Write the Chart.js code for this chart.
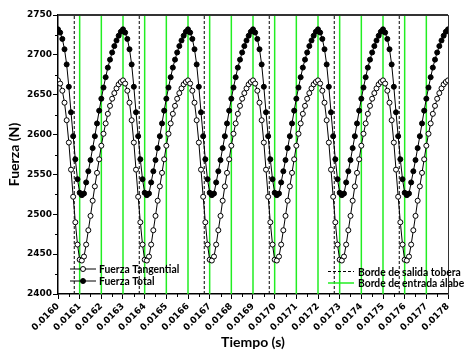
<!DOCTYPE html>
<html>
<head>
<meta charset="utf-8">
<script src="https://cdn.jsdelivr.net/npm/chart.js@4/dist/chart.umd.min.js"></script>
<style>
  html, body { margin: 0; padding: 0; background: #fff; }
</style>
</head>
<body>
<canvas id="forceChart" width="467" height="355"></canvas>
<script>
// sampling grid of the simulation (s)
const tStart = 0.0160;
const tStep = 0.00001;

// Fuerza Tangential (N), one value per sample
const fuerzaTangential = [
  2668, 2664, 2655, 2640, 2618, 2590, 2556, 2522, 2490, 2462, 2443, 2442, 2447, 2462, 2480, 2498, 2517, 2535, 2552, 2569, 2586, 2601, 2614, 2626, 2636, 2645, 2652, 2658, 2663, 2666,
  2668, 2664, 2655, 2640, 2618, 2590, 2556, 2522, 2490, 2462, 2443, 2442, 2447, 2462, 2480, 2498, 2517, 2535, 2552, 2569, 2586, 2601, 2614, 2626, 2636, 2645, 2652, 2658, 2663, 2666,
  2668, 2664, 2655, 2640, 2618, 2590, 2556, 2522, 2490, 2462, 2443, 2442, 2447, 2462, 2480, 2498, 2517, 2535, 2552, 2569, 2586, 2601, 2614, 2626, 2636, 2645, 2652, 2658, 2663, 2666,
  2668, 2664, 2655, 2640, 2618, 2590, 2556, 2522, 2490, 2462, 2443, 2442, 2447, 2462, 2480, 2498, 2517, 2535, 2552, 2569, 2586, 2601, 2614, 2626, 2636, 2645, 2652, 2658, 2663, 2666,
  2668, 2664, 2655, 2640, 2618, 2590, 2556, 2522, 2490, 2462, 2443, 2442, 2447, 2462, 2480, 2498, 2517, 2535, 2552, 2569, 2586, 2601, 2614, 2626, 2636, 2645, 2652, 2658, 2663, 2666,
  2668, 2664, 2655, 2640, 2618, 2590, 2556, 2522, 2490, 2462, 2443, 2442, 2447, 2462, 2480, 2498, 2517, 2535, 2552, 2569, 2586, 2601, 2614, 2626, 2636, 2645, 2652, 2658, 2663, 2666,
  2668
];

// Fuerza Total (N)
const fuerzaTotal = [
  2732, 2728, 2720, 2707, 2688, 2660, 2628, 2598, 2569, 2544, 2527, 2524, 2526, 2540, 2554, 2568, 2583, 2598, 2614, 2630, 2645, 2659, 2672, 2684, 2694, 2703, 2711, 2718, 2724, 2729,
  2732, 2728, 2720, 2707, 2688, 2660, 2628, 2598, 2569, 2544, 2527, 2524, 2526, 2540, 2554, 2568, 2583, 2598, 2614, 2630, 2645, 2659, 2672, 2684, 2694, 2703, 2711, 2718, 2724, 2729,
  2732, 2728, 2720, 2707, 2688, 2660, 2628, 2598, 2569, 2544, 2527, 2524, 2526, 2540, 2554, 2568, 2583, 2598, 2614, 2630, 2645, 2659, 2672, 2684, 2694, 2703, 2711, 2718, 2724, 2729,
  2732, 2728, 2720, 2707, 2688, 2660, 2628, 2598, 2569, 2544, 2527, 2524, 2526, 2540, 2554, 2568, 2583, 2598, 2614, 2630, 2645, 2659, 2672, 2684, 2694, 2703, 2711, 2718, 2724, 2729,
  2732, 2728, 2720, 2707, 2688, 2660, 2628, 2598, 2569, 2544, 2527, 2524, 2526, 2540, 2554, 2568, 2583, 2598, 2614, 2630, 2645, 2659, 2672, 2684, 2694, 2703, 2711, 2718, 2724, 2729,
  2732, 2728, 2720, 2707, 2688, 2660, 2628, 2598, 2569, 2544, 2527, 2524, 2526, 2540, 2554, 2568, 2583, 2598, 2614, 2630, 2645, 2659, 2672, 2684, 2694, 2703, 2711, 2718, 2724, 2729,
  2732
];

// vertical markers (s)
const bordeSalidaTobera = [0.016075, 0.016375, 0.016675, 0.016975, 0.017275, 0.017575];
const bordeEntradaAlabe = [0.0161, 0.0162, 0.0163, 0.0164, 0.0165, 0.0166, 0.0167, 0.0168, 0.0169,
  0.0170, 0.0171, 0.0172, 0.0173, 0.0174, 0.0175, 0.0176, 0.0177];

const xTickLabels = ['0.0160', '0.0161', '0.0162', '0.0163', '0.0164', '0.0165', '0.0166', '0.0167', '0.0168', '0.0169',
  '0.0170', '0.0171', '0.0172', '0.0173', '0.0174', '0.0175', '0.0176', '0.0177', '0.0178'];
const yTickLabels = [2400, 2450, 2500, 2550, 2600, 2650, 2700, 2750];

const yMin = 2400, yMax = 2750;
const tickFont = { family: 'DejaVu Sans', weight: 'bold', size: 9 };
const titleFont = { family: 'Lato', weight: 'bold', size: 14 };
const legendFont = "bold 12px Lato";

const toPoints = (vals) => vals.map((v, i) => ({ x: tStart + i * tStep, y: v }));
const vLine = (t, color, width, dash) => ({
  data: [{ x: t, y: yMin }, { x: t, y: yMax }],
  borderColor: color,
  borderWidth: width,
  borderDash: dash,
  pointRadius: 0,
  fill: false
});

// minor ticks, frame and the two in-plot legends
const decorations = {
  id: 'decorations',
  afterDraw(chart) {
    const { ctx, chartArea: a, scales: { x, y } } = chart;
    ctx.save();
    ctx.strokeStyle = '#000';
    ctx.lineWidth = 1;
    for (let i = 0; i < yTickLabels.length - 1; i++) {
      const py = Math.round(y.getPixelForValue((yTickLabels[i] + yTickLabels[i + 1]) / 2)) + 0.5;
      ctx.beginPath(); ctx.moveTo(a.left - 3, py); ctx.lineTo(a.left, py); ctx.stroke();
    }
    for (let i = 0; i < xTickLabels.length - 1; i++) {
      const mid = (parseFloat(xTickLabels[i]) + parseFloat(xTickLabels[i + 1])) / 2;
      const px = Math.round(x.getPixelForValue(mid)) + 0.5;
      ctx.beginPath(); ctx.moveTo(px, a.bottom); ctx.lineTo(px, a.bottom + 3); ctx.stroke();
    }
    // frame top / right
    ctx.strokeStyle = '#333';
    ctx.lineWidth = 2;
    ctx.beginPath(); ctx.moveTo(a.left, a.top); ctx.lineTo(a.right, a.top); ctx.stroke();
    ctx.lineWidth = 1;
    ctx.beginPath(); ctx.moveTo(a.right + 0.5, a.top); ctx.lineTo(a.right + 0.5, a.bottom); ctx.stroke();

    const label = (txt, tx, ty) => {
      ctx.save();
      ctx.translate(tx, ty);
      ctx.scale(0.86, 1);
      ctx.fillText(txt, 0, 0);
      ctx.restore();
    };

    // left legend
    ctx.font = legendFont;
    ctx.textBaseline = 'middle';
    ctx.fillStyle = '#000';
    const rows = [
      { label: 'Fuerza Tangential', fill: '#fff', y: a.bottom - 25 },
      { label: 'Fuerza Total', fill: '#000', y: a.bottom - 13 }
    ];
    rows.forEach(r => {
      ctx.strokeStyle = '#000'; ctx.lineWidth = 1; ctx.setLineDash([]);
      ctx.beginPath(); ctx.moveTo(a.left + 12, r.y); ctx.lineTo(a.left + 38, r.y); ctx.stroke();
      ctx.beginPath(); ctx.arc(a.left + 25, r.y, 2.5, 0, Math.PI * 2);
      ctx.fillStyle = r.fill; ctx.fill(); ctx.stroke();
      ctx.fillStyle = '#000';
      label(r.label, a.left + 41, r.y + 0.5);
    });

    // right legend
    const lx = a.right - 120;
    ctx.strokeStyle = '#000'; ctx.lineWidth = 1; ctx.setLineDash([3, 2]);
    ctx.beginPath(); ctx.moveTo(lx, a.bottom - 22.5); ctx.lineTo(lx + 26, a.bottom - 22.5); ctx.stroke();
    ctx.setLineDash([]);
    ctx.strokeStyle = '#22ee22'; ctx.lineWidth = 1.5;
    ctx.beginPath(); ctx.moveTo(lx, a.bottom - 11); ctx.lineTo(lx + 26, a.bottom - 11); ctx.stroke();
    ctx.fillStyle = '#000';
    label('Borde de salida tobera', lx + 30, a.bottom - 22);
    label('Borde de entrada álabe', lx + 30, a.bottom - 10.5);
    ctx.restore();
  }
};

new Chart(document.getElementById('forceChart'), {
  type: 'line',
  data: {
    datasets: [
      {
        label: 'Fuerza Tangential',
        data: toPoints(fuerzaTangential),
        borderColor: '#000',
        borderWidth: 1,
        pointRadius: 2.5,
        pointBorderWidth: 1,
        pointBackgroundColor: '#fff',
        pointBorderColor: '#000',
        tension: 0
      },
      {
        label: 'Fuerza Total',
        data: toPoints(fuerzaTotal),
        borderColor: '#000',
        borderWidth: 1,
        pointRadius: 2.5,
        pointBorderWidth: 1,
        pointBackgroundColor: '#000',
        pointBorderColor: '#000',
        tension: 0
      },
      ...bordeSalidaTobera.map(t => vLine(t, '#000', 1, [3, 2])),
      ...bordeEntradaAlabe.map(t => vLine(t, '#22ee22', 1.5, []))
    ]
  },
  options: {
    responsive: false,
    animation: false,
    layout: { padding: { top: 15, right: 19, left: 0, bottom: 0 } },
    plugins: { legend: { display: false }, tooltip: { enabled: false } },
    scales: {
      x: {
        type: 'linear',
        min: 0.0160,
        max: 0.0178,
        afterBuildTicks: s => { s.ticks = xTickLabels.map(l => ({ value: parseFloat(l) })); },
        afterFit: s => { s.height = 61; },
        ticks: {
          autoSkip: false, minRotation: 45, maxRotation: 45, padding: 2,
          color: '#000', font: tickFont,
          callback: (v, i) => xTickLabels[i]
        },
        grid: { drawOnChartArea: false, drawTicks: true, tickLength: 5, tickColor: '#000' },
        border: { display: true, color: '#000', width: 1.5 },
        title: { display: true, text: 'Tiempo (s)', color: '#000', font: titleFont, padding: { top: 0, bottom: 4 } }
      },
      y: {
        min: yMin,
        max: yMax,
        afterBuildTicks: s => { s.ticks = yTickLabels.map(v => ({ value: v })); },
        afterFit: s => { s.width = 58; },
        ticks: { padding: 1, color: '#000', font: tickFont, callback: v => String(v) },
        grid: { drawOnChartArea: false, drawTicks: true, tickLength: 5, tickColor: '#000' },
        border: { display: true, color: '#000', width: 1.5 },
        title: { display: true, text: 'Fuerza (N)', color: '#000', font: titleFont, padding: { top: 6, bottom: 0 } }
      }
    }
  },
  plugins: [decorations]
});
</script>
</body>
</html>
